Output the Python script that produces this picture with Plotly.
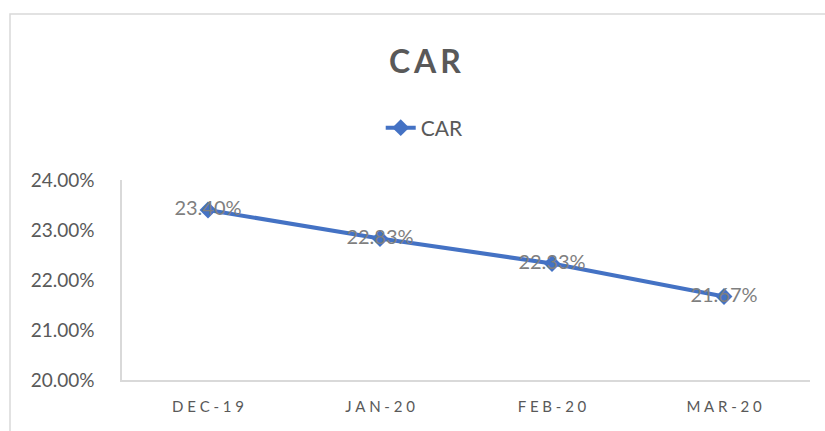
import plotly.graph_objects as go

categories = ["DEC-19", "JAN-20", "FEB-20", "MAR-20"]
car_values = [0.2340, 0.2283, 0.2233, 0.2167]
y_ticks = [0.20, 0.21, 0.22, 0.23, 0.24]

def spaced(s, sep="\u2009"):
    return sep.join(list(s))

FONT = "Lato, Open Sans, sans-serif"

fig = go.Figure()
fig.add_trace(go.Scatter(
    x=categories, y=car_values, name="CAR",
    mode="lines+markers+text",
    line=dict(color="#4472C4", width=4),
    marker=dict(symbol="diamond", size=13, color="#4472C4"),
    text=[f"{v*100:.2f}%" for v in car_values],
    textposition="middle center",
    textfont=dict(family=FONT, size=20, color="#7f7f7f"),
    cliponaxis=False,
))

fig.update_layout(
    width=825, height=431,
    margin=dict(l=122, r=15, t=180, b=51),
    paper_bgcolor="white", plot_bgcolor="white",
    title=dict(text="<b>" + spaced("CAR", "\u2009") + "</b>", x=0.515, xanchor="center",
               y=1 - 62/431, yanchor="middle",
               font=dict(family=FONT, size=32, color="#595959")),
    showlegend=True,
    legend=dict(orientation="h", x=0.44, xanchor="center", y=1.0 + (180-128)/200, yanchor="middle",
                font=dict(family=FONT, size=21, color="#595959"),
                bgcolor="rgba(0,0,0,0)"),
    xaxis=dict(
        tickmode="array", tickvals=categories, ticktext=[spaced(c, "\u2009\u2009") for c in categories],
        range=[-0.5, 3.5],
        showline=True, linecolor="#d9d9d9", linewidth=1.5, showgrid=False, ticks="",
        tickfont=dict(family=FONT, size=15, color="#595959"),
        ticklabelstandoff=12,
    ),
    yaxis=dict(
        range=[0.20, 0.24], tickvals=y_ticks, tickformat=".2%",
        showline=True, linecolor="#d9d9d9", linewidth=1.5, showgrid=False, ticks="",
        zeroline=False,
        tickfont=dict(family=FONT, size=19, color="#595959"),
        ticklabelstandoff=22,
    ),
    shapes=[dict(type="rect", xref="paper", yref="paper",
                 x0=(10-122)/688, x1=1.2, y0=-0.5, y1=(380-14)/200,
                 line=dict(color="#d9d9d9", width=1.5), layer="below")],
)

fig.write_html("out.html")
